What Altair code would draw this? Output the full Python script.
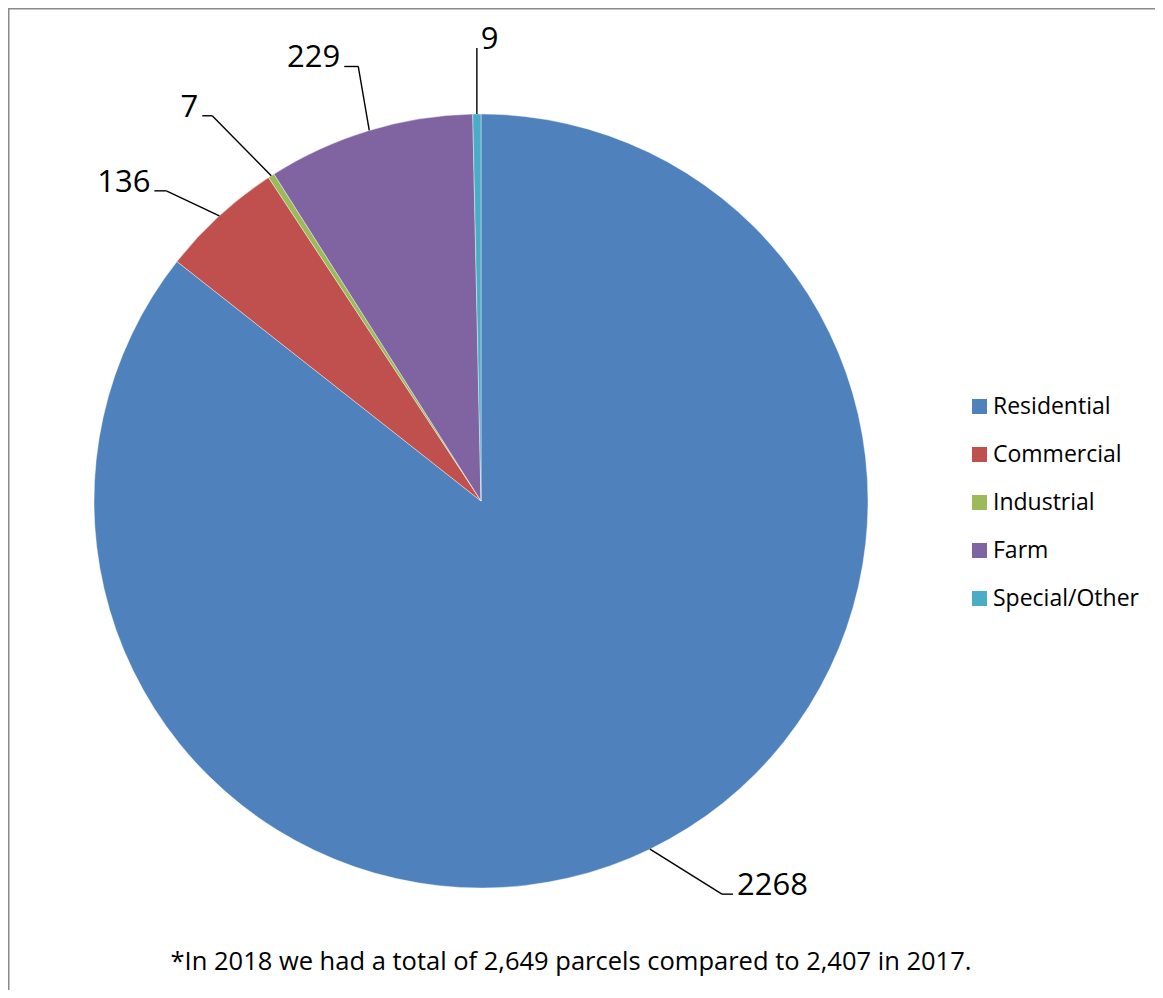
import altair as alt
import pandas as pd
import numpy as np

# ---- data ----
categories = ["Residential", "Commercial", "Industrial", "Farm", "Special/Other"]
values = [2268, 136, 7, 229, 9]
colors = ["#4F81BD", "#C0504D", "#9BBB59", "#8064A2", "#4BACC6"]
footnote = "*In 2018 we had a total of 2,649 parcels compared to 2,407 in 2017."

# ---- layout / style ----
W, H = 1147, 982
CX, CY, R = 473, 493, 387
leader_dx = [72, -53, -59, -11, 0]     # px from slice edge to elbow
leader_dy = [45, -25, -60, -64, -66]
tail_len = [11, -12, -10, -14, 0]      # horizontal tail
FONT = "Open Sans"

vals = np.array(values, dtype=float)
total = vals.sum()
mid = np.cumsum(vals) - vals / 2
ang = 2 * np.pi * mid / total
ex, ey = np.sin(ang), np.cos(ang)
bx = ex + np.array(leader_dx) / R
by = ey - np.array(leader_dy) / R
tx = bx + np.array(tail_len) / R
side = ["right" if t >= 0 else "left" for t in tail_len]
gap = np.array([4 if s == "right" else -4 for s in side]) / R
df = pd.DataFrame({
    "category": categories, "value": values, "idx": range(len(values)),
    "ex": ex, "ey": ey, "bx": bx, "by": by, "tx": tx, "ty": by,
    "lx": tx + gap, "ly": by - 1.0 / R, "side": side,
})

xs = alt.Scale(domain=[-1, 1], range=[CX - R, CX + R])
ys = alt.Scale(domain=[-1, 1], range=[CY + R, CY - R])

base = alt.Chart(df)

pie = base.mark_arc(outerRadius=R, stroke="white", strokeWidth=0.4).encode(
    theta=alt.Theta("value:Q", stack=True),
    order=alt.Order("idx:Q"),
    color=alt.Color(
        "category:N",
        scale=alt.Scale(domain=categories, range=colors),
        sort=categories,
        legend=alt.Legend(
            title=None, orient="none", legendX=960, legendY=387,
            symbolType="square", symbolSize=225, symbolStrokeWidth=0,
            labelFont=FONT, labelFontSize=23, labelColor="black",
            rowPadding=24, labelOffset=2,
        ),
    ),
    x=alt.value(CX), y=alt.value(CY),
)

seg1 = base.mark_rule(color="black", strokeWidth=1.4).encode(
    x=alt.X("ex:Q", scale=xs, axis=None), y=alt.Y("ey:Q", scale=ys, axis=None),
    x2="bx:Q", y2="by:Q",
)
seg2 = base.mark_rule(color="black", strokeWidth=1.4).encode(
    x=alt.X("bx:Q", scale=xs, axis=None), y=alt.Y("by:Q", scale=ys, axis=None),
    x2="tx:Q", y2="ty:Q",
)

lab_r = base.transform_filter(alt.datum.side == "right").mark_text(
    align="left", baseline="alphabetic", font=FONT, fontSize=31, color="black"
).encode(
    x=alt.X("lx:Q", scale=xs, axis=None), y=alt.Y("ly:Q", scale=ys, axis=None),
    text=alt.Text("value:Q", format="d"),
)
lab_l = base.transform_filter(alt.datum.side == "left").mark_text(
    align="right", baseline="alphabetic", font=FONT, fontSize=31, color="black"
).encode(
    x=alt.X("lx:Q", scale=xs, axis=None), y=alt.Y("ly:Q", scale=ys, axis=None),
    text=alt.Text("value:Q", format="d"),
)

note = alt.Chart(pd.DataFrame({"t": [footnote]})).mark_text(
    align="center", baseline="alphabetic", font=FONT, fontSize=25.5, color="black"
).encode(text="t:N", x=alt.value(563), y=alt.value(962))

frame_top = alt.Chart(pd.DataFrame({"a": [0]})).mark_rule(color="#8a8a8a", strokeWidth=1.5).encode(
    x=alt.value(0), x2=alt.value(W), y=alt.value(0.75))
frame_left = alt.Chart(pd.DataFrame({"a": [0]})).mark_rule(color="#8a8a8a", strokeWidth=1.5).encode(
    x=alt.value(0.75), y=alt.value(0), y2=alt.value(H))

chart = alt.layer(pie, seg1, seg2, lab_r, lab_l, note, frame_top, frame_left).resolve_scale(
    x="shared", y="shared"
).properties(
    width=W, height=H, padding=0, autosize=alt.AutoSizeParams(type="none"),
    background="white",
).configure_view(stroke=None)

chart.save("out.html", embed_options={"renderer": "svg", "actions": False})
